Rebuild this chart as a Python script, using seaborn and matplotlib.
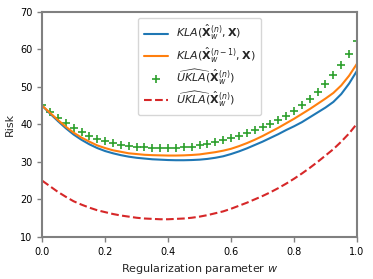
import numpy as np
import pandas as pd
import matplotlib
matplotlib.use("Agg")
import matplotlib.pyplot as plt
import seaborn as sns

w = np.round(np.arange(41) * 0.025, 3)

kla_n = [45.0, 42.9, 40.9, 39.0, 37.3, 35.9, 34.7, 33.7, 32.9, 32.3,
         31.8, 31.4, 31.1, 30.9, 30.7, 30.6, 30.5, 30.45, 30.45, 30.5,
         30.6, 30.8, 31.1, 31.5, 32.1, 32.8, 33.6, 34.5, 35.4, 36.4,
         37.4, 38.5, 39.5, 40.6, 41.9, 43.2, 44.5, 46.0, 48.1, 50.9, 54.3]

kla_n1 = [45.0, 43.1, 41.2, 39.4, 37.8, 36.5, 35.4, 34.4, 33.7, 33.1,
          32.7, 32.3, 32.1, 31.9, 31.8, 31.75, 31.7, 31.7, 31.75, 31.85,
          32.0, 32.3, 32.6, 33.0, 33.5, 34.2, 35.0, 35.9, 36.9, 38.0,
          39.1, 40.3, 41.5, 42.8, 44.1, 45.5, 46.9, 48.4, 50.4, 53.0, 56.2]

ukla_a = [45.2, 43.4, 41.8, 40.3, 39.0, 37.9, 36.9, 36.1, 35.5, 35.0,
          34.6, 34.3, 34.1, 33.9, 33.8, 33.75, 33.75, 33.8, 33.9, 34.1,
          34.4, 34.8, 35.3, 35.8, 36.4, 37.0, 37.7, 38.4, 39.2, 40.1,
          41.1, 42.3, 43.7, 45.2, 46.8, 48.7, 50.8, 53.1, 55.8, 58.8, 62.3]

ukla_b = [25.0, 23.5, 22.0, 20.7, 19.5, 18.6, 17.8, 17.1, 16.6, 16.1,
          15.7, 15.4, 15.1, 14.9, 14.8, 14.7, 14.7, 14.8, 14.9, 15.1,
          15.4, 15.8, 16.3, 16.8, 17.5, 18.3, 19.1, 20.0, 20.9, 21.9,
          23.0, 24.2, 25.5, 26.9, 28.4, 30.0, 31.7, 33.4, 35.4, 37.6, 40.2]

labels = [r"$KLA(\hat{\mathbf{X}}_w^{(n)}, \mathbf{X})$",
          r"$KLA(\hat{\mathbf{X}}_w^{(n-1)}, \mathbf{X})$",
          r"$\widehat{UKLA}(\hat{\mathbf{X}}_w^{(n)})$",
          r"$\widehat{UKLA}(\hat{\mathbf{X}}_w^{(n)})$"]

sns.set_style("ticks")
plt.rcParams["font.family"] = ["DejaVu Sans"]

fig = plt.figure(figsize=(3.73, 2.79), dpi=100)
ax = fig.add_axes([0.113, 0.151, 0.844, 0.806])

sns.lineplot(x=w, y=kla_n, ax=ax, color="#1f77b4", linewidth=1.5, label=labels[0])
sns.lineplot(x=w, y=kla_n1, ax=ax, color="#ff7f0e", linewidth=1.5, label=labels[1])
sns.scatterplot(x=w, y=ukla_a, ax=ax, color="#2ca02c", marker="+", s=40,
                linewidth=1.2, label=labels[2])
sns.lineplot(x=w, y=ukla_b, ax=ax, color="#d62728", linewidth=1.5,
             linestyle="--", label=labels[3])

ax.set_xlim(0, 1)
ax.set_ylim(10, 70)
ax.set_xticks([0.0, 0.2, 0.4, 0.6, 0.8, 1.0])
ax.set_yticks([10, 20, 30, 40, 50, 60, 70])
ax.set_xlabel("Regularization parameter $w$", fontsize=8)
ax.set_ylabel("Risk", fontsize=8)
ax.tick_params(labelsize=7, length=3.5, width=1, colors="0.5", labelcolor="black")
for s in ax.spines.values():
    s.set_visible(True)
    s.set_color("0.5")
    s.set_linewidth(1.5)

ax.legend(loc="upper center", fontsize=8, frameon=True, handlelength=2.2,
          labelspacing=0.25, borderpad=0.5, handletextpad=0.7)

fig.savefig("out.png", dpi=100)
